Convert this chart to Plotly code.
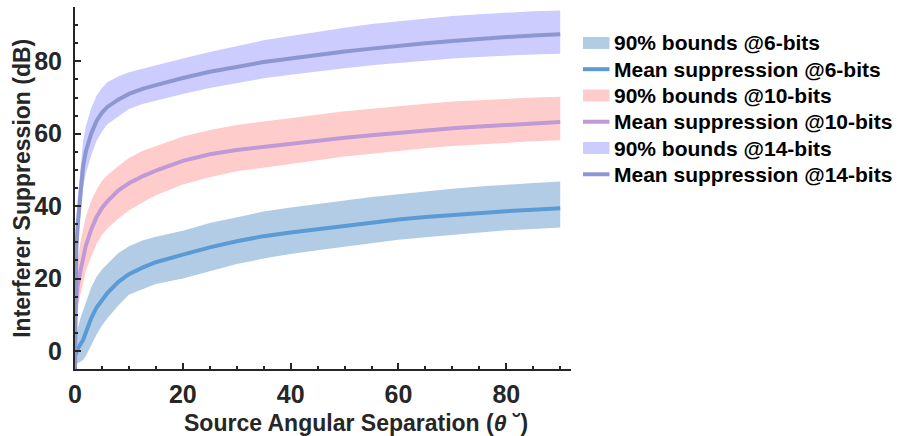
import plotly.graph_objects as go

# Source angular separation (degrees)
theta = [0, 0.25, 0.5, 1, 1.5, 2, 3, 4, 5, 6, 8, 10, 12.5, 15, 20, 25, 30, 35,
         40, 45, 50, 55, 60, 65, 70, 75, 80, 85, 90]

# Mean interferer suppression (dB) per quantisation depth
mean_6 = [-1.5, 0.0, 0.5, 1.8, 3.0, 5.0, 9.0, 12.0, 14.2, 16.0, 19.0, 21.2, 23.0, 24.5,
          26.6, 28.6, 30.3, 31.7, 32.7, 33.6, 34.6, 35.5, 36.3, 37.0, 37.6, 38.1, 38.6, 39.0, 39.4]
mean_10 = [10.0, 15.0, 18.0, 22.0, 26.0, 29.0, 33.5, 37.0, 39.5, 41.3, 44.3, 46.3, 48.2, 49.8,
           52.5, 54.3, 55.5, 56.4, 57.2, 58.0, 58.9, 59.6, 60.3, 60.9, 61.5, 62.0, 62.4, 62.8, 63.2]
mean_14 = [-5.0, 28.0, 35.0, 44.0, 51.0, 55.0, 60.0, 63.5, 65.8, 67.4, 69.4, 71.0, 72.4, 73.4,
           75.4, 77.1, 78.5, 79.8, 80.8, 81.8, 82.7, 83.5, 84.3, 85.0, 85.6, 86.2, 86.7, 87.1, 87.5]

# 90% bounds (dB)
lo_6 = [-4.0, -3.0, -3.5, -3.0, -2.5, -1.5, 1.5, 4.5, 7.0, 9.0, 12.5, 15.5, 17.0, 18.5,
        20.0, 22.0, 24.0, 25.5, 26.8, 27.8, 28.8, 29.8, 30.7, 31.4, 32.1, 32.7, 33.3, 33.7, 34.1]
hi_6 = [1.0, 3.5, 6.0, 9.0, 11.0, 13.5, 17.5, 20.5, 22.5, 24.0, 27.0, 28.9, 30.5, 31.5,
        33.2, 35.3, 37.0, 38.5, 39.6, 40.6, 41.6, 42.5, 43.3, 44.1, 44.8, 45.4, 46.0, 46.4, 46.8]
lo_10 = [4.0, 9.0, 12.0, 15.5, 19.0, 22.0, 26.0, 29.5, 32.0, 33.8, 36.5, 38.8, 41.0, 43.0,
         46.0, 48.0, 49.6, 50.7, 51.7, 52.7, 53.7, 54.5, 55.3, 56.0, 56.6, 57.1, 57.5, 57.9, 58.2]
hi_10 = [16.0, 22.0, 25.0, 30.0, 34.0, 37.0, 41.5, 44.5, 47.0, 48.5, 51.0, 53.3, 55.2, 56.6,
         59.2, 61.0, 62.4, 63.4, 64.4, 65.3, 66.2, 66.9, 67.7, 68.3, 68.9, 69.3, 69.7, 70.0, 70.2]
lo_14 = [-5.0, 22.0, 29.0, 38.0, 45.0, 49.0, 54.0, 58.0, 60.6, 62.6, 64.8, 66.8, 68.2, 69.2,
         71.0, 72.6, 74.0, 75.3, 76.3, 77.3, 78.1, 78.9, 79.6, 80.2, 80.8, 81.2, 81.6, 81.9, 82.1]
hi_14 = [-5.0, 34.0, 42.0, 51.0, 58.0, 62.0, 67.0, 70.5, 72.6, 74.2, 75.8, 77.0, 78.0, 79.0,
         80.8, 82.6, 84.3, 85.8, 87.0, 88.2, 89.3, 90.3, 91.1, 91.8, 92.5, 93.0, 93.5, 93.8, 94.0]

depths = ["6-bits", "10-bits", "14-bits"]
means = [mean_6, mean_10, mean_14]
lows = [lo_6, lo_10, lo_14]
highs = [hi_6, hi_10, hi_14]
band_colors = ["#b3cce5", "#ffcccc", "#ccccff"]
line_colors = ["#5b9bd5", "#bf9ad6", "#8c97d2"]

FONT = "Liberation Sans, Arial, Helvetica, sans-serif"
INK = "#262626"

# plot-area geometry in pixels (used to place the legend block and titles)
W, H = 898, 436
ML, MR, MT, MB = 74.5, 327, 7, 66.5
PW, PH = W - ML - MR, H - MT - MB


def px_x(p):
    return (p - ML) / PW


def px_y(p):
    return (H - MB - p) / PH


fig = go.Figure()

for mean, lo, hi, band_col, line_col in zip(means, lows, highs, band_colors, line_colors):
    # shaded 90% bounds
    fig.add_trace(go.Scatter(x=theta, y=lo, mode="lines", line=dict(width=0, color=band_col),
                             showlegend=False, hoverinfo="skip"))
    fig.add_trace(go.Scatter(x=theta, y=hi, mode="lines", line=dict(width=0, color=band_col),
                             fill="tonexty", fillcolor=band_col, showlegend=False, hoverinfo="skip"))
    # mean suppression curve
    fig.add_trace(go.Scatter(x=theta, y=mean, mode="lines", line=dict(width=4, color=line_col),
                             showlegend=False))

axis_common = dict(
    showline=True, linecolor=INK, linewidth=2, mirror=False,
    ticks="inside", ticklen=6, tickwidth=1.5, tickcolor=INK,
    showgrid=False, zeroline=False,
    tickfont=dict(family=FONT, size=25, color=INK, weight="bold"),
)

fig.update_xaxes(range=[0, 92], tickvals=[0, 20, 40, 60, 80],
                 minor=dict(dtick=5, tick0=0, ticks="inside", ticklen=3, tickwidth=1.5, tickcolor=INK),
                 ticklabelstandoff=2, **axis_common)
fig.update_yaxes(range=[-5, 95], tickvals=[0, 20, 40, 60, 80],
                 minor=dict(dtick=5, tick0=0, ticks="inside", ticklen=3, tickwidth=1.5, tickcolor=INK),
                 ticklabelstandoff=6, **axis_common)

title_font = dict(family=FONT, size=23, color=INK, weight="bold")
fig.add_annotation(text="Source Angular Separation (<i>θ</i> ˘)", xref="paper", yref="paper",
                   x=px_x(356), y=px_y(424), xanchor="center", yanchor="middle",
                   showarrow=False, font=title_font)
fig.add_annotation(text="Interferer Suppression (dB)", xref="paper", yref="paper",
                   x=px_x(22), y=px_y(188.5), xanchor="center", yanchor="middle",
                   textangle=-90, showarrow=False, font=title_font)

# legend block: band swatch / mean line for each depth
legend_font = dict(family=FONT, size=21, color="black", weight="bold")
row0, row_step = 43.0, 26.3
sw_left, sw_right, text_left = 583, 609.5, 612
row = 0
for depth, band_col, line_col in zip(depths, band_colors, line_colors):
    for label, kind in ((f"90% bounds @{depth}", "band"), (f"Mean suppression @{depth}", "line")):
        cy = row0 + row * row_step
        if kind == "band":
            fig.add_shape(type="rect", xref="paper", yref="paper",
                          x0=px_x(sw_left), x1=px_x(sw_right),
                          y0=px_y(cy + 6), y1=px_y(cy - 6),
                          fillcolor=band_col, line=dict(width=0))
        else:
            fig.add_shape(type="line", xref="paper", yref="paper",
                          x0=px_x(sw_left), x1=px_x(sw_right),
                          y0=px_y(cy), y1=px_y(cy),
                          line=dict(color=line_col, width=4))
        fig.add_annotation(text=label, xref="paper", yref="paper",
                           x=px_x(text_left), y=px_y(cy), xanchor="left", yanchor="middle",
                           showarrow=False, font=legend_font)
        row += 1

fig.update_layout(
    width=W, height=H,
    margin=dict(l=ML, r=MR, t=MT, b=MB),
    paper_bgcolor="white", plot_bgcolor="white",
    showlegend=False,
)

fig.write_html("out.html")
